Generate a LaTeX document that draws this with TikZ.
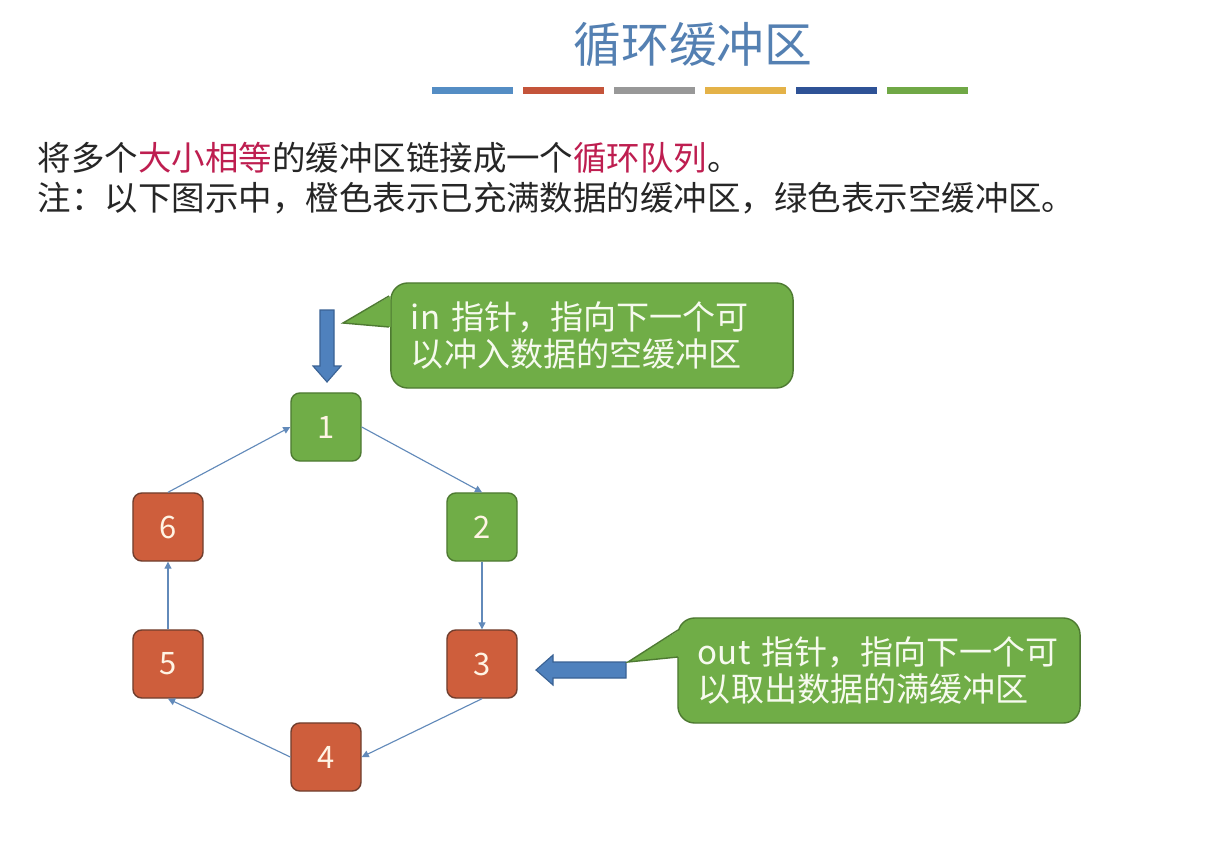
\documentclass[tikz,border=0pt]{standalone}
\usepackage{fontspec}
\setmainfont{Noto Sans CJK SC}
\usetikzlibrary{arrows.meta}

\definecolor{titleblue}{RGB}{84,128,178}
\definecolor{bodygray}{RGB}{38,38,38}
\definecolor{keyred}{RGB}{190,30,80}
\definecolor{barblue}{RGB}{84,141,196}
\definecolor{barred}{RGB}{196,84,58}
\definecolor{bargray}{RGB}{152,152,152}
\definecolor{bargold}{RGB}{228,178,72}
\definecolor{barnavy}{RGB}{46,82,150}
\definecolor{bargreen}{RGB}{112,168,70}
\definecolor{emptyfill}{RGB}{112,173,71}
\definecolor{emptyline}{RGB}{78,122,50}
\definecolor{fullfill}{RGB}{206,94,60}
\definecolor{fullline}{RGB}{112,62,46}
\definecolor{linkblue}{RGB}{98,138,186}
\definecolor{arrowfill}{RGB}{79,129,189}
\definecolor{arrowline}{RGB}{58,98,148}

\tikzset{
  bufbox/.style={rounded corners=0.22cm, line width=1pt, minimum width=1.75cm,
    minimum height=1.7cm, inner sep=0pt, text={rgb,255:red,255;green,244;blue,228},
    font=\fontsize{22}{26}\selectfont},
  emptybuf/.style={bufbox, fill=emptyfill, draw=emptyline},
  fullbuf/.style={bufbox, fill=fullfill, draw=fullline},
  link/.style={draw=linkblue, line width=0.8pt, -{Triangle[length=5pt,width=5pt]}},
  hint/.style={fill=emptyfill, draw=emptyline, line width=1pt, rounded corners=0.42cm,
    text={rgb,255:red,246;green,250;blue,238}, font=\fontsize{23.5}{27}\selectfont,
    align=left, text width=9.05cm, inner xsep=0.5cm, minimum height=2.625cm},
  blockarrow/.style={fill=arrowfill, draw=arrowline, line width=0.8pt}
}

\begin{document}
\begin{tikzpicture}[x=0.025cm,y=-0.025cm]
\fill[white] (0,0) rectangle (1218,861);
\useasboundingbox (0,0) rectangle (1218,861);
% title and colour bars
\node[text=titleblue, font=\fontsize{34}{40}\selectfont] (title) at (693,45) {循环缓冲区};
\foreach \c [count=\i from 0] in {barblue,barred,bargray,bargold,barnavy,bargreen}
  \fill[\c] ({432+91*\i},87) rectangle ({513+91*\i},94);
% description
\node[anchor=west, text=bodygray, font=\fontsize{23.8}{28}\selectfont] (line1) at (33,158)
  {将多个\textcolor{keyred}{大小相等}的缓冲区链接成一个\textcolor{keyred}{循环队列}。};
\node[anchor=west, text=bodygray, font=\fontsize{23.8}{28}\selectfont] (line2) at (33,198)
  {注：以下图示中，橙色表示已充满数据的缓冲区，绿色表示空缓冲区。};
% buffers
\node[emptybuf] (b1) at (326,427) {1};
\node[emptybuf] (b2) at (482,527) {2};
\node[fullbuf] (b3) at (482,664) {3};
\node[fullbuf] (b4) at (326,757) {4};
\node[fullbuf] (b5) at (168,664) {5};
\node[fullbuf] (b6) at (168,527) {6};
\draw[link] (b1.east) -- (b2.north);
\draw[link] (b2.south) -- (b3.north);
\draw[link] (b3.south) -- (b4.east);
\draw[link] (b4.west) -- (b5.south);
\draw[link] (b5.north) -- (b6.south);
\draw[link] (b6.north) -- (b1.west);
% in pointer
\filldraw[blockarrow] (320,310) -- (334,310) -- (334,366) -- (341,366) -- (327,382)
  -- (313,366) -- (320,366) -- cycle;
\node[hint] (inhint) at (592,335.5) {in 指针，指向下一个可\\以冲入数据的空缓冲区};
\fill[emptyfill] (390.5,296) -- (343,323) -- (390.5,327) -- cycle;
\draw[emptyline, line width=1pt] (389,296) -- (343,323) -- (389,327);
% out pointer
\filldraw[blockarrow] (626,662) -- (553,662) -- (553,655) -- (536,670) -- (553,685)
  -- (553,678) -- (626,678) -- cycle;
\node[hint] (outhint) at (879,670.5) {out 指针，指向下一个可\\以取出数据的满缓冲区};
\fill[emptyfill] (679.5,630) -- (628,662) -- (679.5,657) -- cycle;
\draw[emptyline, line width=1pt] (678,630) -- (628,662) -- (678,657);
\end{tikzpicture}
\end{document}
